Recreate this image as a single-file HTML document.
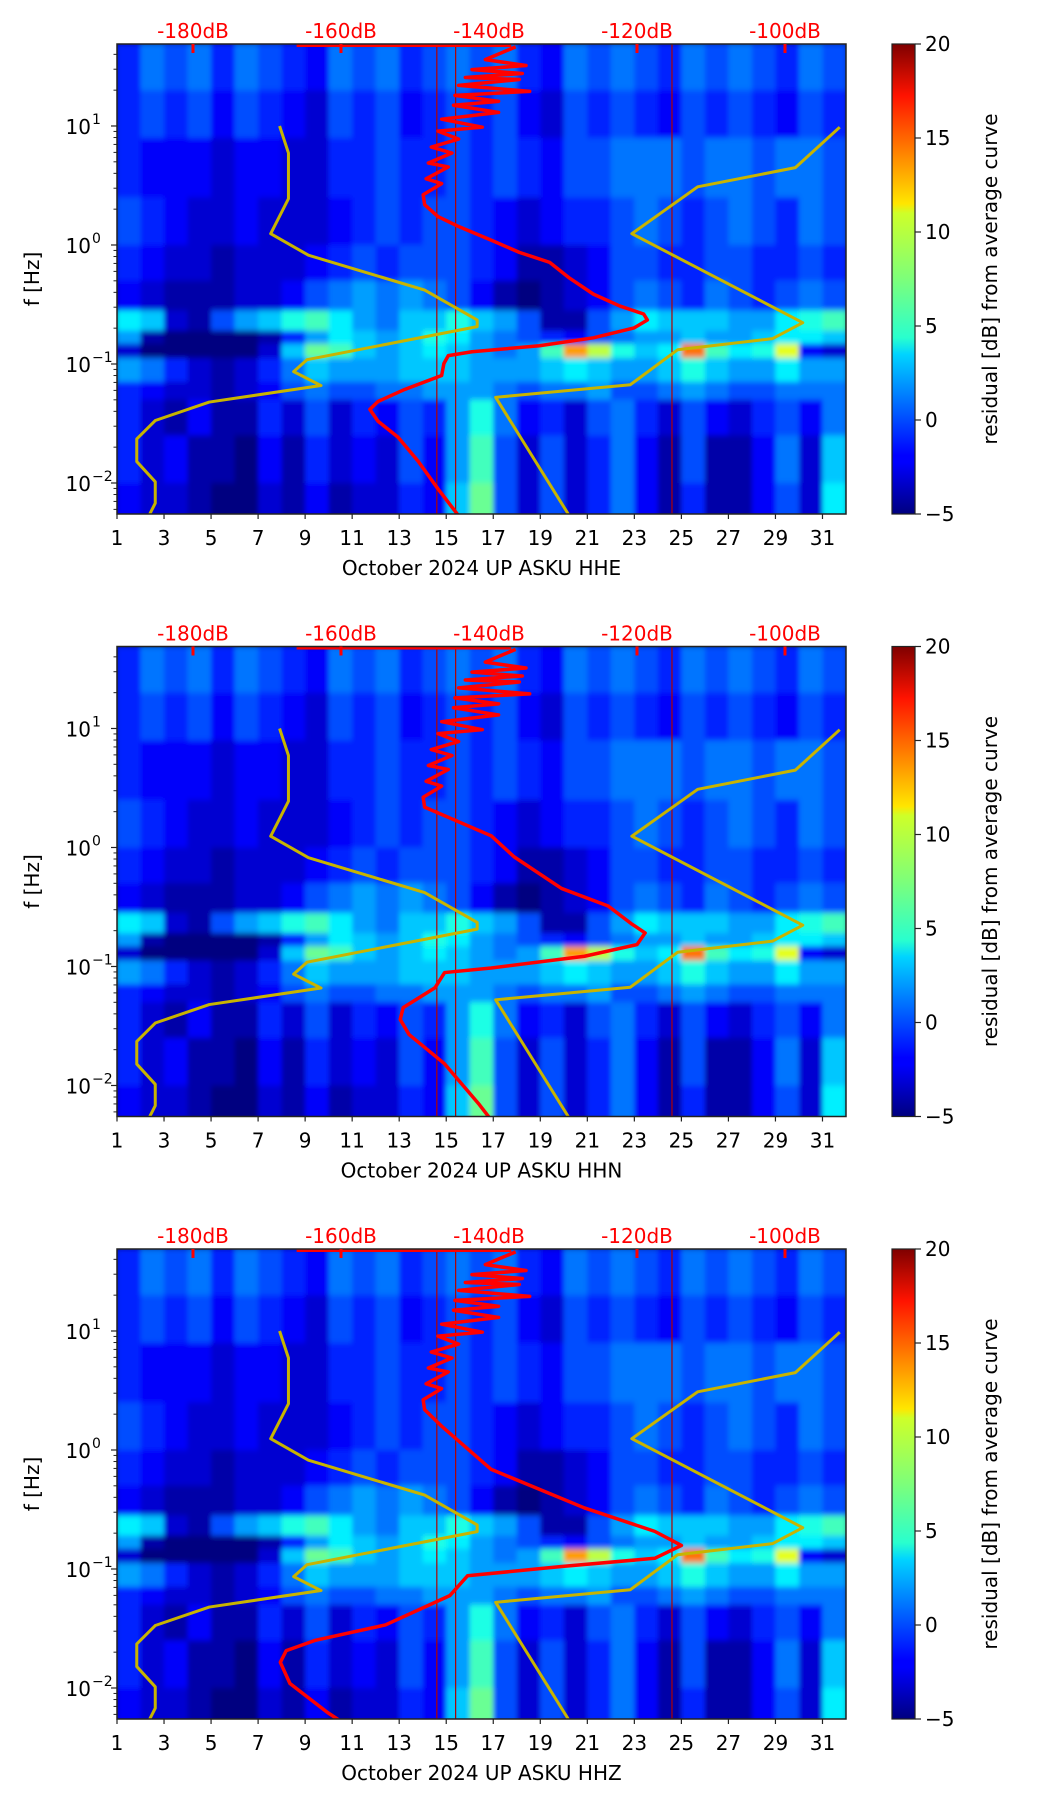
<!DOCTYPE html>
<html><head><meta charset="utf-8"><style>
html,body{margin:0;padding:0;background:#fff;}
svg{display:block;font-family:"DejaVu Sans","Liberation Sans",sans-serif;}
</style></head><body>
<svg id="fig" width="1052" height="1806" viewBox="0 0 1052 1806" xmlns="http://www.w3.org/2000/svg">
<defs>
<filter id="blur" x="0" y="0" width="1" height="1"><feGaussianBlur stdDeviation="2.5 3"/></filter>
<linearGradient id="jet" x1="0" y1="1" x2="0" y2="0">
<stop offset="0" stop-color="#00007f"/><stop offset="0.11" stop-color="#0000ff"/><stop offset="0.125" stop-color="#0000ff"/>
<stop offset="0.34" stop-color="#00d4ff"/><stop offset="0.375" stop-color="#29ffce"/><stop offset="0.5" stop-color="#7dff7a"/>
<stop offset="0.64" stop-color="#ceff29"/><stop offset="0.66" stop-color="#ffe600"/><stop offset="0.89" stop-color="#ff1300"/><stop offset="1" stop-color="#7f0000"/>
</linearGradient>
</defs>
</svg>
<script>
// ---- data ----
const days = Array.from({length:31},(_,i)=>i+1);
const xTickLabels = ["1","3","5","7","9","11","13","15","17","19","21","23","25","27","29","31"];
const dbLabels = [-180,-160,-140,-120,-100];
const cbTicks = [-5,0,5,10,15,20];
const bandEdges = [1.69,1.3,0.9,0.4,0.0,-0.3,-0.55,-0.72,-0.83,-0.95,-1.15,-1.3,-1.6,-2.0,-2.3];
const residual = [
[-1,1,0,1,-1,1,0,-1,-2,1,0,1,-1,0,1,0,1,-1,-2,1,0,1,0,-1,1,0,1,0,-1,1,0],
[-1,0,-1,0,-2,0,-1,-2,-3,0,-1,0,-2,-1,0,-1,0,-2,-3,0,-1,0,-1,-2,0,-1,0,-1,-2,0,-1],
[-1,-2,-2,-2,-3,-2,-2,-3,-3,-1,-1,0,-1,-1,0,-1,0,-1,-2,0,0,1,1,1,0,1,1,0,1,1,0],
[0,-1,-2,-3,-3,-2,-3,-3,-3,-2,-1,0,-1,0,0,-1,-2,-3,-2,-1,-1,0,1,0,-1,0,1,0,-1,1,0],
[-1,-2,-3,-3,-4,-3,-3,-3,-2,-1,0,-1,0,0,0,-1,-2,-4,-4,-3,-2,0,0,-1,-1,0,0,-1,-1,0,-1],
[-2,-3,-4,-4,-4,-3,-3,-2,0,1,2,1,2,1,0,-2,-4,-5,-4,-3,-2,0,1,0,-1,1,0,-1,0,1,0],
[4,3,-3,-4,0,2,3,5,6,4,2,1,3,3,5,3,2,0,-4,-4,0,2,4,3,3,3,2,2,4,5,6],
[2,-4,-5,-5,-5,-5,-4,-1,2,4,3,2,3,5,4,2,1,0,-1,-2,0,1,2,2,3,2,2,3,4,4,3],
[-3,-5,-5,-5,-5,-5,-3,3,7,6,3,2,3,4,3,2,1,2,6,13,9,5,3,4,14,6,4,5,10,-2,-3],
[2,1,-1,-3,-4,-3,-1,1,3,2,2,2,3,3,3,2,2,2,3,4,3,2,2,3,5,3,2,2,4,2,2],
[-1,-2,-3,-3,-4,-3,-2,0,1,0,0,1,1,2,2,2,1,0,1,1,2,0,0,1,2,1,0,0,1,1,1],
[-1,-3,-4,-2,-4,-4,-1,-3,0,-3,-1,-2,0,-1,2,5,1,-2,-1,-3,0,1,-1,-3,0,-2,-3,-1,0,-2,1],
[-1,-3,-2,-4,-4,-5,-2,-4,-1,-3,-2,-3,0,-2,2,6,0,-3,0,-3,-1,1,-2,-4,0,-4,-4,-2,1,-3,3],
[-2,-3,-3,-4,-5,-5,-3,-4,-2,-4,-3,-3,-1,-2,3,7,0,-3,0,-3,-1,1,-2,-4,-1,-4,-4,-2,0,-3,4]
];
const nlnmDb   = [-168.3,-167.1,-167.1,-169.5,-164.4,-148.7,-141.6,-141.6,-164.6,-166.4,-162.7,-177.8,-185.1,-187.6,-187.6,-185.1,-185.1,-186.0];
const nlnmLogf = [1.0,0.773,0.389,0.095,-0.086,-0.379,-0.63,-0.686,-0.964,-1.064,-1.181,-1.32,-1.475,-1.63,-1.82,-1.99,-2.17,-2.28];
const nhnmDb   = [-92.6,-98.6,-111.8,-120.7,-97.6,-101.7,-114.5,-120.9,-139.1,-129.1];
const nhnmLogf = [0.99,0.65,0.489,0.095,-0.653,-0.787,-0.88,-1.174,-1.28,-2.28];
const upperDb   = [-136.4,-140.5,-135.0,-142.3,-135.5,-143.2,-135.9,-144.1,-134.5,-144.6,-138.7,-144.8,-138.7,-146.4,-140.9,-146.9,-144.1,-147.8,-145.0,-148.2,-145.5,-148.5,-146.4,-148.9,-148.7];
const upperLogf = [1.665,1.558,1.508,1.474,1.441,1.408,1.391,1.341,1.291,1.257,1.207,1.174,1.114,1.057,0.990,0.957,0.890,0.823,0.773,0.689,0.656,0.556,0.516,0.422,0.339];
const lowE_Db   = [-146.9,-144.1,-139.6,-135.9,-131.8,-129.1,-125.9,-122.3,-119.1,-118.6,-120.4,-125.9,-133.2,-142.3,-145.5,-146.1,-146.4,-151.4,-155.0,-156.1,-155.0,-152.3,-149.6,-146.9,-144.1];
const lowE_Logf = [0.239,0.155,0.038,-0.062,-0.146,-0.279,-0.413,-0.513,-0.580,-0.630,-0.697,-0.780,-0.847,-0.897,-0.930,-0.997,-1.097,-1.214,-1.315,-1.381,-1.481,-1.615,-1.815,-2.049,-2.276];
const lowN_Db   = [-139.7,-136.6,-130.2,-123.9,-120.8,-118.9,-120.0,-127.1,-139.7,-146.0,-147.3,-151.6,-152.0,-150.8,-146.0,-141.3,-138.5];
const lowN_Logf = [0.098,-0.079,-0.344,-0.492,-0.639,-0.718,-0.816,-0.914,-1.013,-1.051,-1.179,-1.346,-1.445,-1.572,-1.818,-2.161,-2.387];
const lowZ_Db   = [-146.4,-139.7,-127.1,-117.6,-114.0,-117.6,-130.2,-142.9,-145.3,-154.0,-163.4,-167.4,-168.2,-166.9,-161.8,-155.8];
const lowZ_Logf = [0.200,-0.163,-0.487,-0.684,-0.802,-0.910,-0.979,-1.057,-1.224,-1.470,-1.598,-1.686,-1.784,-1.962,-2.207,-2.452];
const channels = ["HHE","HHN","HHZ"];
const streakDays = [14.6,15.4,24.6];

// ---- layout ----
const L=117,R=846,H=470,tops=[44,646.5,1249];
const NS="http://www.w3.org/2000/svg";
const svg=document.getElementById('fig');
function mk(tag,attrs,parent){const e=document.createElementNS(NS,tag);for(const k in attrs)e.setAttribute(k,attrs[k]);(parent||svg).appendChild(e);return e;}
const xDay=d=>L+(d-1)*(R-L)/31;
const xDb=db=>193+(db+180)*7.4;
function jet(v){let t=(v+5)/25;t=Math.max(0,Math.min(1,t));
 const r=Math.max(0,Math.min(1,1.5-Math.abs(4*t-3))),g=Math.max(0,Math.min(1,1.5-Math.abs(4*t-2))),b=Math.max(0,Math.min(1,1.5-Math.abs(4*t-1)));
 return `rgb(${Math.round(r*255)},${Math.round(g*255)},${Math.round(b*255)})`;}

tops.forEach((T,p)=>{
 const yF=lf=>T+(1.689-lf)*119;
 const g=mk('g',{});
 
 
 const cid='clip'+p;
 const cp=mk('clipPath',{id:cid},g);mk('rect',{x:L,y:T,width:R-L,height:H},cp);
 const hm=mk('g',{'clip-path':`url(#${cid})`},g);
 const hmi=mk('g',{filter:'url(#blur)'},hm);
 mk('rect',{x:L-10,y:T-10,width:R-L+20,height:H+20,fill:'#00007f'},hmi);
 residual.forEach((row,bi)=>{
  row.forEach((v,di)=>{
   const d=days[di];
   const c=mk('rect',{x:xDay(d),y:yF(bandEdges[bi]),width:xDay(d+1)-xDay(d)+0.5,height:yF(bandEdges[bi+1])-yF(bandEdges[bi])+0.5,fill:jet(v)},hmi);
   
   
  });
 });
 streakDays.forEach(d=>{mk('line',{x1:xDay(d),x2:xDay(d),y1:T,y2:T+H,stroke:'#b00000','stroke-width':1.2},hm);});
 const line=(dbs,lfs,col,w,name)=>{const pl=mk('polyline',{points:dbs.map((d,i)=>xDb(d)+','+yF(lfs[i])).join(' '),fill:'none',stroke:col,'stroke-width':w,'stroke-linejoin':'round'},hm);
  };
 line(nlnmDb,nlnmLogf,'#c8b400',3,'nlnm-curve');
 line(nhnmDb,nhnmLogf,'#c8b400',3,'nhnm-curve');
 const low=[ [lowE_Db,lowE_Logf],[lowN_Db,lowN_Logf],[lowZ_Db,lowZ_Logf] ][p];
 line(upperDb.concat(low[0]),upperLogf.concat(low[1]),'#ff0000',3.5,'psd-curve');
 mk('line',{x1:xDb(-166),x2:xDb(-137),y1:T+1.5,y2:T+1.5,stroke:'#ff0000','stroke-width':3},hm);
 const fr=mk('rect',{x:L,y:T,width:R-L,height:H,fill:'none',stroke:'#222','stroke-width':1.5},g);
 
 dbLabels.forEach(db=>{
  const t=mk('text',{x:xDb(db),y:T-6,'text-anchor':'middle','font-size':20,fill:'#ff0000'},g);t.textContent=db+'dB';
  
  if(db!==-140)mk('line',{x1:xDb(db),x2:xDb(db),y1:T,y2:T+9,stroke:'#ff0000','stroke-width':3},g);
 });
 xTickLabels.forEach(s=>{const d=+s,x=xDay(d);
  mk('line',{x1:x,x2:x,y1:T+H,y2:T+H+5,stroke:'#222','stroke-width':1.2},g);
  const t=mk('text',{x:x,y:T+H+31,'text-anchor':'middle','font-size':20,fill:'#000'},g);t.textContent=s;
  });
 const xl=mk('text',{x:(L+R)/2,y:T+H+61,'text-anchor':'middle','font-size':20,fill:'#000'},g);
 xl.textContent='October 2024 UP ASKU  '+channels[p];
 
 [1,0,-1,-2].forEach(e=>{const y=yF(e);
  mk('line',{x1:L-6,x2:L,y1:y,y2:y,stroke:'#222','stroke-width':1.2},g);
  const t=mk('text',{x:L-26,y:y+8,'text-anchor':'end','font-size':20,fill:'#000'},g);t.textContent='10';
  
  const s=mk('text',{x:L-25,y:y-2,'text-anchor':'start','font-size':14,fill:'#000'},g);s.textContent=e<0?'\u2212'+(-e):String(e);
 });
 for(let e=-3;e<=1;e++)for(let m=2;m<=9;m++){const lf=e+Math.log10(m);if(lf>-2.26&&lf<1.689){const y=yF(lf);mk('line',{x1:L-3.5,x2:L,y1:y,y2:y,stroke:'#222','stroke-width':1},g);}}
 const yl=mk('text',{x:0,y:0,transform:`translate(39,${T+H/2}) rotate(-90)`,'text-anchor':'middle','font-size':20,fill:'#000'},g);
 yl.textContent='f [Hz]';
 const cb=mk('rect',{x:892,y:T,width:23,height:H,fill:'url(#jet)',stroke:'#222','stroke-width':1.2},g);
 
 cbTicks.forEach(v=>{const y=T+H-(v+5)/25*H;
  mk('line',{x1:915,x2:921,y1:y,y2:y,stroke:'#222','stroke-width':1.2},g);
  const t=mk('text',{x:925,y:y+7,'font-size':20,fill:'#000'},g);t.textContent=v<0?'\u2212'+(-v):String(v);
  });
 const cl=mk('text',{x:0,y:0,transform:`translate(997,${T+H/2}) rotate(-90)`,'text-anchor':'middle','font-size':20,fill:'#000'},g);
 cl.textContent='residual [dB] from average curve';
});
</script>
</body></html>
